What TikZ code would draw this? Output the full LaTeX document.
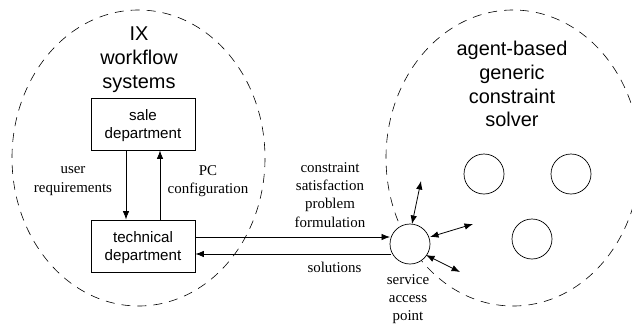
\documentclass[tikz,border=0pt]{standalone}
\usepackage{fontspec}
\setmainfont{Liberation Serif}
\setsansfont{Liberation Sans}
\usetikzlibrary{arrows.meta,calc}
\tikzset{
  px/.style={x=1bp,y=-1bp},
  region/.style={draw,dash pattern=on 9bp off 7bp,line width=0.6bp},
  dept/.style={draw,line width=0.8bp,minimum width=104bp,minimum height=52bp,inner sep=0pt,align=center,font=\sffamily\fontsize{15.2}{17.8}\selectfont},
  agent/.style={draw,circle,line width=0.7bp,fill=white,minimum size=40bp,inner sep=0pt},
  big/.style={align=center,font=\sffamily\fontsize{20}{24}\selectfont,inner sep=0pt},
  lab/.style={align=center,font=\fontsize{15}{18.3}\selectfont,inner sep=0pt},
  flow/.style={draw,line width=0.8bp,-{Latex[length=8.5bp,width=6.5bp]}},
  both/.style={draw,line width=0.8bp,{Latex[length=8.5bp,width=6.5bp]}-{Latex[length=8.5bp,width=6.5bp]}}
}
\begin{document}
\begin{tikzpicture}[px]
\useasboundingbox (0,0) rectangle (632,325);
\clip (0,0) rectangle (632,325);
\draw[region] (138.5,158) ellipse [x radius=126.5,y radius=148];
\draw[region] (513,158) ellipse [x radius=127,y radius=148];
\node[dept] (sale) at (143,124) {\rule{0pt}{14bp}sale\\department};
\node[dept] (tech) at (143,246) {\rule{0pt}{14bp}technical\\department};
\node[agent] (sap) at (410,244) {};
\node[agent] (a1) at (484,174) {};
\node[agent] (a2) at (571,174) {};
\node[agent] (a3) at (532,239) {};
\node[big] (ix) at (139,60) {IX\\workflow\\systems};
\node[big] (solver) at (512,84) {agent-based\\generic\\constraint\\solver};
\node[lab] (ur) at (73,181) {user\\requirements};
\node[lab] (pc) at (208,181) {PC\\configuration};
\node[lab] (csp) at (330,195) {constraint\\satisfaction\\problem\\formulation};
\node[lab] (sol) at (334.5,267) {solutions};
\node[lab] (sp) at (408,299) {service\\access\\point};
\coordinate (d1) at ($(sale.south)+(-17,0)$);
\coordinate (d2) at ($(tech.north)+(-17,0)$);
\coordinate (u1) at ($(tech.north)+(17,0)$);
\coordinate (u2) at ($(sale.south)+(17,0)$);
\coordinate (e1) at ($(tech.east)+(0,-9)$);
\coordinate (s1) at ($(sap.center)+(-20,-7)$);
\coordinate (e2) at ($(tech.east)+(0,8)$);
\coordinate (s2) at ($(sap.center)+(-19,10)$);
\coordinate (t1) at (421,181);
\coordinate (t2) at (473,224);
\coordinate (t3) at (460,272);
\coordinate (f1) at (412,224);
\coordinate (f2) at (430,237);
\coordinate (f3) at (426,255);
\draw[flow] (d1) -- (d2);
\draw[flow] (u1) -- (u2);
\draw[flow] (e1) -- (s1);
\draw[flow] (s2) -- (e2);
\draw[both] (f1) -- (t1);
\draw[both] (f2) -- (t2);
\draw[both] (f3) -- (t3);
\end{tikzpicture}
\end{document}
